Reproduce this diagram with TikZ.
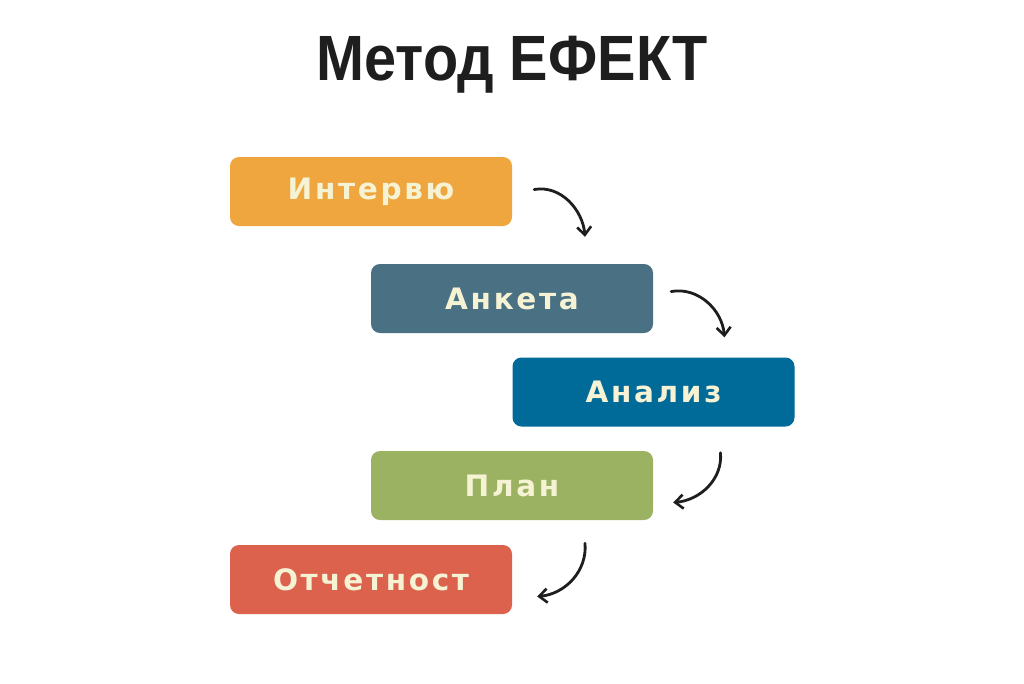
\documentclass[tikz,border=0pt]{standalone}
\usepackage{fontspec}
\setmainfont{DejaVu Sans}
\newfontfamily\titlefont{Liberation Sans}
\newfontfamily\etapfont[LetterSpace=9]{DejaVu Sans}
\usepackage{tikz}
\usetikzlibrary{arrows.meta}
\definecolor{ink}{HTML}{1E1E1E}
\definecolor{cream}{HTML}{F6F2D4}
\definecolor{orangeI}{HTML}{EFA63F}
\definecolor{slateA}{HTML}{4A7083}
\definecolor{blueA}{HTML}{006A98}
\definecolor{greenP}{HTML}{9BB262}
\definecolor{redO}{HTML}{DC624D}
\tikzset{
	etap/.style={rounded corners=9pt, minimum width=282pt, minimum height=69pt, inner sep=0pt, text=cream, font=\etapfont\bfseries\fontsize{29.5}{29.5}\selectfont},
	hand/.style={line width=2.8pt, ink, line cap=round, -{Straight Barb[length=8pt,width=14pt,line width=2.6pt]}}
}
\begin{document}
\begin{tikzpicture}[x=1pt, y=-1pt]
	\useasboundingbox (0,0) rectangle (1024,683);
	
	\node[font=\titlefont\bfseries\fontsize{64}{64}\selectfont, text=ink, anchor=base] (title) at (512,80) {\scalebox{0.9}[1]{Метод ЕФЕКТ}};
	
	\node[etap, fill=orangeI] (interview) at (371,191.5) {Интервю};
	\node[etap, fill=slateA] (anketa) at (512,298.5) {Анкета};
	\node[etap, fill=blueA] (analiz) at (653.5,392) {Анализ};
	\node[etap, fill=greenP] (plan) at (512,485.5) {План};
	\node[etap, fill=redO] (otchet) at (371,579.5) {Отчетност};
	
	\draw[hand] ([shift={(22,-2)}]interview.east) to[out=10, in=95] ([shift={(73,-27)}]anketa.north);
	\draw[hand] ([shift={(18,-7)}]anketa.east) to[out=10, in=95] ([shift={(71,-20)}]analiz.north);
	\draw[hand] ([shift={(67,26)}]analiz.south) to[out=-85, in=5] ([shift={(20,17)}]plan.east);
	\draw[hand] ([shift={(73,23)}]plan.south) to[out=-85, in=5] ([shift={(25,17)}]otchet.east);
\end{tikzpicture}
\end{document}
